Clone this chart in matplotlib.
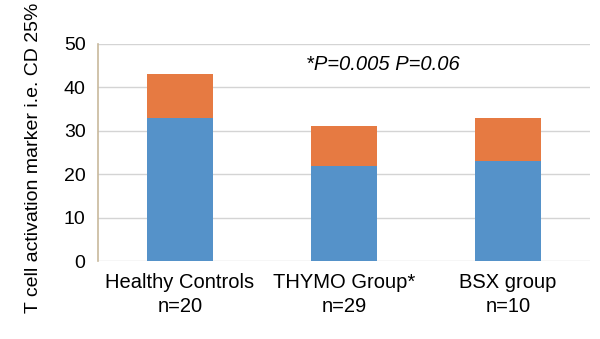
import matplotlib.pyplot as plt
import numpy as np

plt.rcParams['font.family'] = ['Liberation Sans', 'DejaVu Sans']

groups = ["Healthy Controls\nn=20", "THYMO Group*\nn=29", "BSX group\nn=10"]
lower = [33, 22, 23]
upper = [10, 9, 10]

fig = plt.figure(figsize=(6, 3.39), dpi=100)
ax = fig.add_axes([98 / 600, 1 - 261 / 339, 492 / 600, 217 / 339])

x = np.arange(len(groups)) + 0.5
ax.bar(x, lower, width=0.4, color="#5592c9", zorder=3)
ax.bar(x, upper, width=0.4, bottom=lower, color="#e67a42", zorder=3)

ax.set_xlim(0, 3)
ax.set_ylim(0, 50)
ax.set_yticks(range(0, 51, 10))
ax.set_xticks(x)
ax.set_xticklabels(groups, fontsize=14.5, linespacing=1.3)
ax.tick_params(axis='y', labelsize=14, length=0, pad=9)
ax.tick_params(axis='x', length=0, pad=9)
ax.yaxis.grid(True, color="#d4d4d4", linewidth=1, zorder=0)

for side in ("top", "right", "bottom"):
    ax.spines[side].set_visible(False)
ax.spines["left"].set_color("#c8b99c")
ax.spines["left"].set_linewidth(1.2)

ax.set_ylabel("T cell activation marker i.e. CD 25%", fontsize=14)
ax.yaxis.set_label_coords(-56 / 492, (261 - 158) / 217)
ax.text(1.27, 45.2, "*P=0.005 P=0.06", fontsize=14.5, style='italic', va='center')

fig.savefig("out.png", dpi=100)
